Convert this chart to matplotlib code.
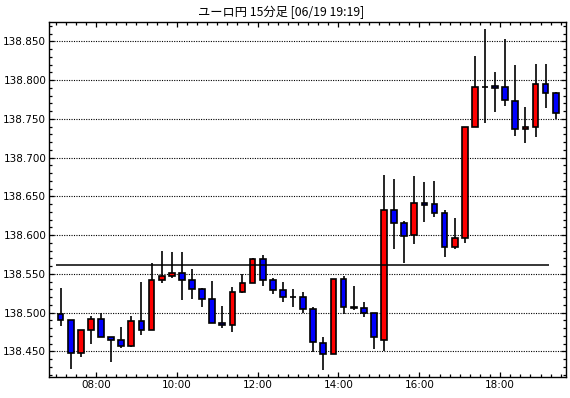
import numpy as np
import pandas as pd
import matplotlib
matplotlib.use("Agg")
import matplotlib.pyplot as plt
import matplotlib.dates as mdates

# 15-minute candles, 07:00 - 19:15
times = pd.date_range("2024-06-19 07:00", periods=50, freq="15min")

opens = [138.498, 138.491, 138.448, 138.477, 138.492, 138.468, 138.464, 138.457, 138.489, 138.478,
         138.542, 138.547, 138.551, 138.542, 138.530, 138.518, 138.486, 138.484, 138.527, 138.538,
         138.569, 138.542, 138.529, 138.520, 138.520, 138.504, 138.461, 138.447, 138.543, 138.507,
         138.506, 138.499, 138.465, 138.632, 138.616, 138.600, 138.642, 138.640, 138.628, 138.584,
         138.596, 138.740, 138.791, 138.792, 138.791, 138.773, 138.737, 138.740, 138.795, 138.783]
highs = [138.532, 138.491, 138.478, 138.495, 138.500, 138.469, 138.481, 138.495, 138.539, 138.564,
         138.579, 138.578, 138.578, 138.556, 138.532, 138.541, 138.508, 138.533, 138.550, 138.571,
         138.574, 138.545, 138.540, 138.530, 138.526, 138.507, 138.469, 138.543, 138.547, 138.534,
         138.514, 138.499, 138.677, 138.672, 138.618, 138.676, 138.668, 138.670, 138.632, 138.622,
         138.740, 138.831, 138.866, 138.810, 138.853, 138.820, 138.765, 138.821, 138.821, 138.785]
lows = [138.483, 138.427, 138.442, 138.459, 138.468, 138.436, 138.454, 138.455, 138.471, 138.477,
        138.538, 138.545, 138.516, 138.517, 138.507, 138.486, 138.480, 138.475, 138.525, 138.538,
        138.534, 138.524, 138.513, 138.507, 138.499, 138.449, 138.426, 138.447, 138.498, 138.503,
        138.494, 138.453, 138.450, 138.582, 138.564, 138.588, 138.617, 138.623, 138.572, 138.582,
        138.590, 138.740, 138.744, 138.759, 138.766, 138.728, 138.719, 138.727, 138.764, 138.750]
closes = [138.491, 138.448, 138.477, 138.492, 138.468, 138.464, 138.457, 138.489, 138.478, 138.542,
          138.547, 138.551, 138.542, 138.530, 138.518, 138.486, 138.484, 138.527, 138.538, 138.569,
          138.542, 138.529, 138.520, 138.520, 138.504, 138.462, 138.447, 138.543, 138.507, 138.506,
          138.499, 138.468, 138.632, 138.616, 138.599, 138.642, 138.639, 138.629, 138.584, 138.596,
          138.740, 138.791, 138.791, 138.790, 138.774, 138.737, 138.740, 138.795, 138.783, 138.758]

ref_level = 138.561
title = "ユーロ円 15分足 [06/19 19:19]"

fig = plt.figure(figsize=(5.7, 3.98), dpi=100)
ax = fig.add_axes([49 / 570, 1 - 377 / 398, 517 / 570, 355 / 398])

minute = 1 / 1440
x = mdates.date2num(times) + 7.5 * minute
o = np.array(opens)
c = np.array(closes)
colors = np.where(c > o, "#ff0000", np.where(c < o, "#0000ff", "white"))

ax.vlines(x, lows, highs, color="black", linewidth=1.2, zorder=2)
ax.bar(x, np.abs(c - o), bottom=np.minimum(o, c), width=8.5 * minute,
       color=colors, edgecolor="black", linewidth=1.2, zorder=3)

ax.hlines(ref_level, x[0] - 7.5 * minute, x[-1] - 10 * minute, color="black", linewidth=1.1, zorder=4)

ax.set_xlim(x[0] - 17.25 * minute, x[-1] + 15.25 * minute)
ax.set_ylim(138.4168, 138.875)

ax.yaxis.set_major_locator(plt.MultipleLocator(0.05))
ax.yaxis.set_minor_locator(plt.MultipleLocator(0.01))
ax.yaxis.set_major_formatter(plt.FormatStrFormatter("%.3f"))
ax.xaxis.set_major_locator(mdates.HourLocator(byhour=range(0, 24, 2)))
ax.xaxis.set_minor_locator(mdates.MinuteLocator(byminute=[0, 15, 30, 45]))
ax.xaxis.set_major_formatter(mdates.DateFormatter("%H:%M"))

ax.grid(axis="y", which="major", color="black", linestyle=(0, (1, 1.2)), linewidth=0.8)
ax.tick_params(which="both", direction="in", top=True, right=True, labelsize=7.5, pad=2, width=0.9)
ax.tick_params(which="major", length=3.5)
ax.tick_params(which="minor", length=2)
for s in ax.spines.values():
    s.set_linewidth(1)

fig.text(0.493, 0.968, title, ha="center", va="center", fontsize=8.8,
         family=["Noto Sans CJK JP", "DejaVu Sans"])

fig.savefig("out.png", dpi=100)
